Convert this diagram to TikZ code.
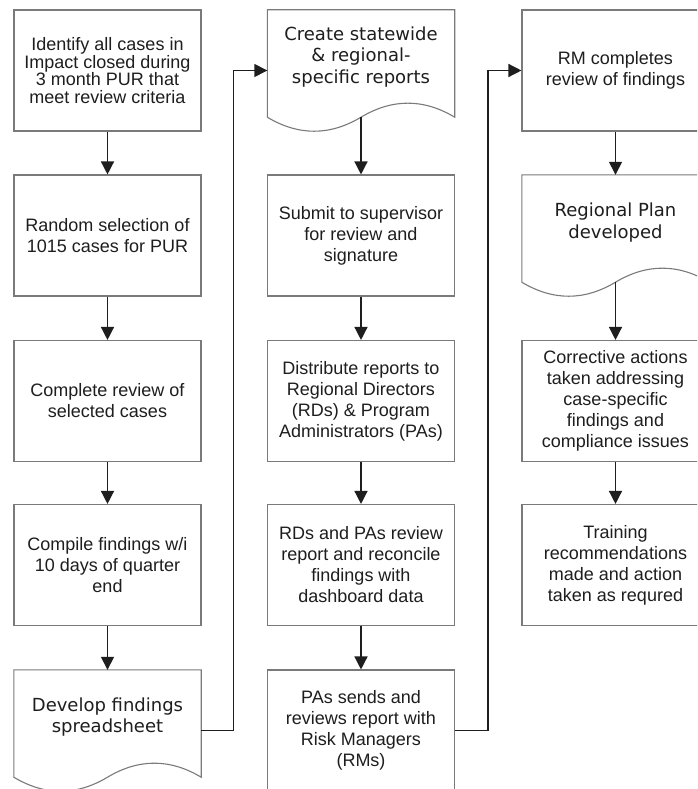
\documentclass[tikz,border=0pt]{standalone}
\usepackage{fontspec}
\newfontfamily\boxfont{Liberation Sans}
\newfontfamily\docfont{DejaVu Sans}
\usetikzlibrary{calc,arrows.meta}
\definecolor{edgegray}{HTML}{7A7A7A}
\definecolor{ink}{HTML}{1E1E1E}
\newcommand{\docshape}[1]{%
\draw[docline] (#1.north west) -- (#1.north east) -- ($(#1.south east)+(0,-14)$)
 .. controls ($(#1.south east)!0.1667!(#1.south west)+(0,-32.7)$) and ($(#1.south east)!0.3333!(#1.south west)+(0,-32.7)$) .. ($(#1.south)+(0,-14)$)
 .. controls ($(#1.south west)!0.3333!(#1.south east)+(0,4.7)$) and ($(#1.south west)!0.1667!(#1.south east)+(0,4.7)$) .. ($(#1.south west)+(0,-14)$) -- cycle;}
\begin{document}
\begin{tikzpicture}[x=1pt,y=-1pt,
  procbox/.style={draw=edgegray, line width=1.1pt, fill=white, minimum width=187pt, minimum height=121pt, inner sep=0pt, align=center, font=\boxfont\fontsize{18}{21}\selectfont, text=ink},
  tightbox/.style={procbox, font=\boxfont\fontsize{18}{17.6}\selectfont},
  docbox/.style={minimum width=187pt, minimum height=121pt, inner sep=0pt, draw=none},
  doctext/.style={align=center, font=\docfont\fontsize{18}{21.5}\selectfont, text=ink, inner sep=0pt},
  docline/.style={draw=edgegray, line width=1.1pt, fill=white},
  flow/.style={draw=ink, line width=1.4pt, -{Triangle[length=13pt,width=13pt]}}]
\useasboundingbox (0,0) rectangle (697,789);
\clip (0,0) rectangle (697,789);
\fill[white] (0,0) rectangle (697,789);
% column 1
\node[tightbox] (a1) at (107.5,70.5) {Identify all cases in\\Impact closed during\\3 month PUR that\\meet review criteria};
\node[procbox] (a2) at (107.5,235.5) {Random selection of\\1015 cases for PUR};
\node[procbox] (a3) at (107.5,401) {Complete review of\\selected cases};
\node[procbox] (a4) at (107.5,565) {Compile findings w/i\\10 days of quarter\\end};
\node[docbox] (a5) at (107.5,730.5) {};
\docshape{a5}
\node[doctext] (a5t) at (107.5,717) {Develop findings\\spreadsheet};
% column 2
\node[docbox] (b1) at (361,70.5) {};
\docshape{b1}
\node[doctext] (b1t) at (361,57) {Create statewide\\\& regional-\\specific reports};
\node[procbox] (b2) at (361,235.5) {Submit to supervisor\\for review and\\signature};
\node[procbox] (b3) at (361,401) {Distribute reports to\\Regional Directors\\(RDs) \& Program\\Administrators (PAs)};
\node[procbox] (b4) at (361,565) {RDs and PAs review\\report and reconcile\\findings with\\dashboard data};
\node[procbox] (b5) at (361,730.5) {PAs sends and\\reviews report with\\Risk Managers\\(RMs)};
% column 3
\node[procbox] (c1) at (615.5,70.5) {RM completes\\review of findings};
\node[docbox] (c2) at (615.5,235.5) {};
\docshape{c2}
\node[doctext] (c2t) at (615.5,222.5) {Regional Plan\\developed};
\node[procbox] (c3) at (615.5,401) {Corrective actions\\taken addressing\\case-specific\\findings and\\compliance issues};
\node[procbox] (c4) at (615.5,565) {Training\\recommendations\\made and action\\taken as requred};
% connectors
\draw[flow] (a1) -- (a2);
\draw[flow] (a2) -- (a3);
\draw[flow] (a3) -- (a4);
\draw[flow] (a4) -- (a5);
\draw[flow] (a5.east) -- ++(32,0) |- (b1.west);
\draw[flow] ($(b1.south)+(0,-14)$) -- (b2);
\draw[flow] (b2) -- (b3);
\draw[flow] (b3) -- (b4);
\draw[flow] (b4) -- (b5);
\draw[flow] (b5.east) -- ++(33,0) |- (c1.west);
\draw[flow] (c1) -- (c2);
\draw[flow] ($(c2.south)+(0,-14)$) -- (c3);
\draw[flow] (c3) -- (c4);
\end{tikzpicture}
\end{document}
